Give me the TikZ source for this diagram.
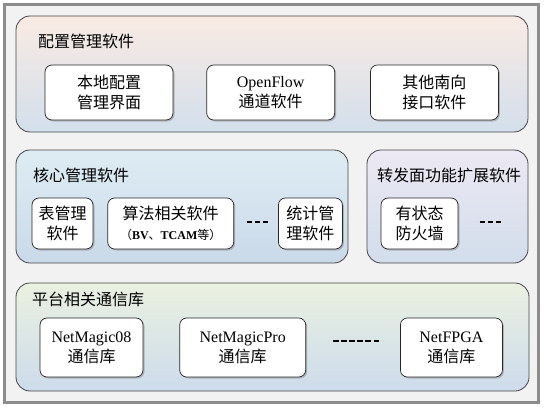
\documentclass[tikz,border=0pt]{standalone}
\usepackage{fontspec}
\setmainfont{Liberation Serif}
\newfontfamily\cjk{Noto Sans CJK SC}
\usetikzlibrary{positioning,shadows}
\definecolor{framegray}{RGB}{140,140,140}
\definecolor{pagebg}{RGB}{242,242,242}
\definecolor{panelline}{RGB}{70,70,70}
\definecolor{cfgtop}{RGB}{249,235,227}
\definecolor{cfgbot}{RGB}{211,223,236}
\definecolor{coretop}{RGB}{222,237,243}
\definecolor{corebot}{RGB}{202,217,233}
\definecolor{fwdtop}{RGB}{236,233,243}
\definecolor{fwdbot}{RGB}{210,221,235}
\definecolor{libtop}{RGB}{234,241,225}
\definecolor{libbot}{RGB}{205,219,235}
\newcommand\lat[1]{{\rmfamily #1}}
\newcommand\dashrow[1]{\rule{5.5pt}{2.8pt}\foreach \k in {2,...,#1}{\hspace{2.6pt}\rule{5.5pt}{2.8pt}}}

\begin{document}
\begin{tikzpicture}[
        x=1pt, y=-1pt, font=\cjk\fontsize{16}{20}\selectfont,
        panel/.style={draw=panelline, line width=0.8pt, rounded corners=14pt, inner sep=0pt},
        title/.style={anchor=west, inner sep=0pt},
        box/.style 2 args={draw=black!85, line width=0.7pt, rounded corners=7pt, fill=white,
            align=center, inner sep=0pt, minimum width=#1, minimum height=#2,
            drop shadow={shadow xshift=1.5pt, shadow yshift=-1.5pt, opacity=0.45}},
        dots/.style={inner sep=0pt}]
        \useasboundingbox (0,0) rectangle (545,409);
        \node[draw=framegray, line width=2.5pt, fill=pagebg, inner sep=0pt,
            minimum width=534pt, minimum height=398pt,
            drop shadow={shadow xshift=1pt, shadow yshift=-1pt, opacity=0.3}] (frame) at (271.5,203.5) {};
        % configuration layer
        \node[panel, top color=cfgtop, bottom color=cfgbot,
            minimum width=512pt, minimum height=116pt] (cfg) at (272,74) {};
        \node[title] (cfgT) at (38,41) {配置管理软件};
        \node[box={128pt}{55pt}] (local) at (109,92.5) {本地配置\\管理界面};
        \node[box={128pt}{55pt}, right=33pt of local] (ofw) {\lat{OpenFlow}\\通道软件};
        \node[box={128pt}{55pt}, right=35pt of ofw] (south) {其他南向\\接口软件};
        % core layer
        \node[panel, top color=coretop, bottom color=corebot,
            minimum width=332pt, minimum height=113pt] (core) at (182,206.5) {};
        \node[title] (coreT) at (33,175) {核心管理软件};
        \node[box={61pt}{51pt}] (tbl) at (62.5,223.5) {表管理\\软件};
        \node[box={126pt}{51pt}, right=14pt of tbl] (algo)
            {算法相关软件\\{\fontsize{12}{14}\selectfont （\lat{\bfseries BV}、\lat{\bfseries TCAM}等）}};
        \node[box={64pt}{51pt}, right=44pt of algo] (stat) {统计管\\理软件};
        \node[dots] (coreD) at (257.5,222) {\dashrow{3}};
        % forwarding extension layer
        \node[panel, top color=fwdtop, bottom color=fwdbot,
            minimum width=161pt, minimum height=113pt] (fwd) at (447.5,206.5) {};
        \node[title] (fwdT) at (377,175) {转发面功能扩展软件};
        \node[box={77pt}{51pt}] (fwall) at (419.5,223.5) {有状态\\防火墙};
        \node[dots] (fwdD) at (490.5,222) {\dashrow{3}};
        % platform library layer
        \node[panel, top color=libtop, bottom color=libbot,
            minimum width=513pt, minimum height=108pt] (lib) at (272.5,337) {};
        \node[title] (libT) at (32,299) {平台相关通信库};
        \node[box={103pt}{59pt}] (nm08) at (91.5,347.5) {\lat{NetMagic08}\\通信库};
        \node[box={126pt}{59pt}, right=36pt of nm08] (nmpro) {\lat{NetMagicPro}\\通信库};
        \node[box={102pt}{59pt}, right=94pt of nmpro] (nfpga) {\lat{NetFPGA}\\通信库};
        \node[dots] (libD) at (356,341) {\dashrow{6}};
    \end{tikzpicture}
\end{document}
